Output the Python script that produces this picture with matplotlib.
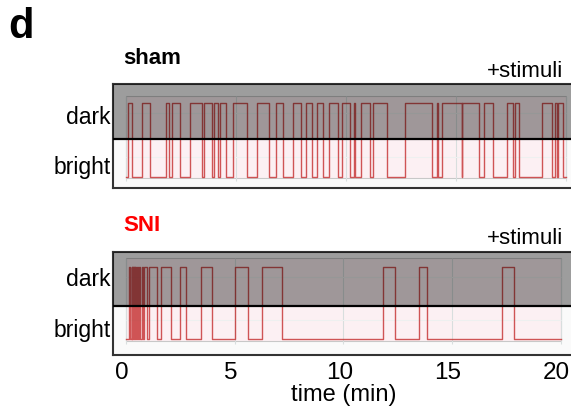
import numpy as np
import matplotlib
matplotlib.use("Agg")
import matplotlib.pyplot as plt
from matplotlib.patches import Rectangle
from matplotlib.transforms import ScaledTranslation

plt.rcParams['font.family'] = ['Liberation Sans', 'DejaVu Sans']

# dark-chamber visits (start, end) in minutes
sham_on = [0.08, 0.69, 1.80, 2.09, 2.89, 3.54, 3.99, 4.26, 4.87, 5.96, 6.80, 7.57,
           8.16, 8.67, 9.23, 9.80, 10.36, 10.68, 11.24, 12.69, 14.13, 14.36, 15.30,
           16.29, 17.32, 17.70, 18.92, 19.52, 19.67]
sham_off = [0.24, 1.07, 1.95, 2.44, 3.43, 3.91, 4.18, 4.53, 5.50, 6.51, 7.14, 7.95,
            8.46, 8.97, 9.62, 10.18, 10.41, 11.09, 11.85, 13.90, 14.20, 15.27, 16.07,
            16.71, 17.59, 17.88, 19.37, 19.60, 19.90]
sni_on = [0.15, 0.26, 0.30, 0.34, 0.38, 0.42, 0.52, 0.61, 0.74, 0.84, 1.07, 1.61,
          2.48, 3.45, 5.01, 6.27, 11.83, 13.49, 17.32]
sni_off = [0.21, 0.285, 0.325, 0.365, 0.405, 0.45, 0.56, 0.64, 0.80, 0.98, 1.41, 2.06,
           2.76, 3.97, 5.60, 7.16, 12.37, 13.83, 17.85]

xticks = [0, 5, 10, 15, 20]
state_labels = ['bright', 'dark']

W, H = 571, 412
fig = plt.figure(figsize=(W / 100, H / 100), dpi=100)


def trace(on, off):
    t = [0.0]
    s = [0]
    for a, b in zip(on, off):
        t += [a, b]
        s += [1, 0]
    t.append(20.0)
    s.append(0)
    return np.array(t), np.array(s)


def panel(rect_px, xlim, ylim, sep, inner_top, on, off, title, tcolor, label_y):
    left, top, right, bottom = rect_px
    ax = fig.add_axes([left / W, 1 - bottom / H, (right - left) / W, (bottom - top) / H])
    ax.set_xlim(*xlim)
    ax.set_ylim(*ylim)
    ax.set_facecolor('#fafafa')
    # inner plotting area
    ax.add_patch(Rectangle((0, -0.02), 20, inner_top + 0.02, facecolor='#fcf0f3',
                           edgecolor='#c8c8c8', lw=0.8, zorder=1))
    ax.vlines(xticks, -0.06, inner_top, color='#d8dede', lw=0.8, zorder=1.5)
    ax.hlines([0.27, 0.86], 0, 20, color='#eef0f0', lw=0.8, zorder=1.5)
    t, s = trace(on, off)
    ax.step(t, s, where='post', color='#c02020', lw=1.0, alpha=0.75, zorder=2)
    # dark chamber shading on top
    ax.add_patch(Rectangle((xlim[0], sep), xlim[1] - xlim[0], ylim[1] - sep,
                           facecolor='black', alpha=0.37, lw=0, zorder=3))
    ax.axhline(sep, color='black', lw=1.6, zorder=4)
    for sp in ax.spines.values():
        sp.set_color('#333333')
        sp.set_linewidth(1.5)
    ax.set_yticks(label_y, state_labels)
    ax.tick_params(axis='y', length=0, pad=2, labelsize=16.5)
    fig.text(123 / W, 1 - (top - 26) / H, title, color=tcolor, fontsize=16,
             fontweight='bold', ha='left', va='center')
    fig.text(563 / W, 1 - (top - 13) / H, '+stimuli', fontsize=16,
             ha='right', va='center')
    return ax


ax1 = panel((113.3, 84.3, 575, 188.5), (-0.60, 20.43), (-0.163, 1.254), 0.51, 1.095,
            sham_on, sham_off, 'sham', 'black', [0.16, 0.84])
ax1.set_xticks([])

ax2 = panel((113.3, 251.7, 575, 355), (-0.58, 20.66), (-0.213, 1.206), 0.464, 1.12,
            sni_on, sni_off, 'SNI', '#ff0000', [0.16, 0.86])
ax2.set_xticks(xticks, [str(v) for v in xticks])
ax2.tick_params(axis='x', length=0, pad=5, labelsize=17.5)
shift = ScaledTranslation(-4 / 100, 0, fig.dpi_scale_trans)
for lab in ax2.get_xticklabels():
    lab.set_transform(lab.get_transform() + shift)
ax2.set_xlabel('time (min)', fontsize=17, labelpad=0)

fig.text(8 / W, 1 - 27 / H, 'd', fontsize=30, fontweight='bold', ha='left', va='center')

fig.savefig('out.png', dpi=100)
